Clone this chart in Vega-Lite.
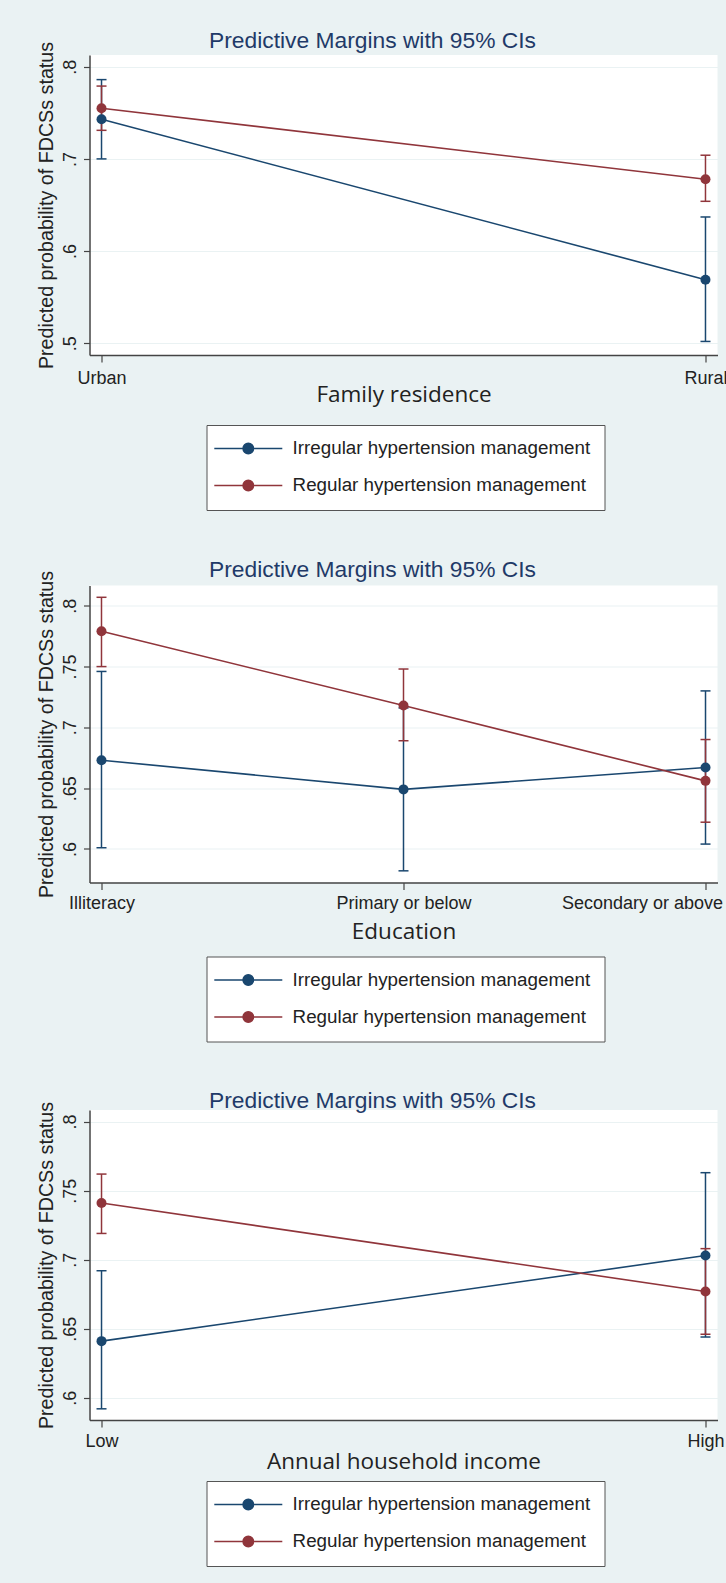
{
  "$schema": "https://vega.github.io/schema/vega-lite/v6.json",
  "background": "#eaf2f3",
  "padding": {"left": 36.5, "top": 30, "right": 9, "bottom": 20},
  "datasets": {
    "p1": [
      {"x": "Urban", "s": "Irregular hypertension management", "m": 0.743, "lo": 0.700, "hi": 0.786},
      {"x": "Rural", "s": "Irregular hypertension management", "m": 0.569, "lo": 0.502, "hi": 0.637},
      {"x": "Urban", "s": "Regular hypertension management", "m": 0.755, "lo": 0.731, "hi": 0.779},
      {"x": "Rural", "s": "Regular hypertension management", "m": 0.678, "lo": 0.654, "hi": 0.704}
    ],
    "p2": [
      {"x": "Illiteracy", "s": "Irregular hypertension management", "m": 0.673, "lo": 0.601, "hi": 0.746},
      {"x": "Primary or below", "s": "Irregular hypertension management", "m": 0.649, "lo": 0.582, "hi": 0.716},
      {"x": "Secondary or above", "s": "Irregular hypertension management", "m": 0.667, "lo": 0.604, "hi": 0.730},
      {"x": "Illiteracy", "s": "Regular hypertension management", "m": 0.779, "lo": 0.750, "hi": 0.807},
      {"x": "Primary or below", "s": "Regular hypertension management", "m": 0.718, "lo": 0.689, "hi": 0.748},
      {"x": "Secondary or above", "s": "Regular hypertension management", "m": 0.656, "lo": 0.622, "hi": 0.690}
    ],
    "p3": [
      {"x": "Low", "s": "Irregular hypertension management", "m": 0.641, "lo": 0.592, "hi": 0.692},
      {"x": "High", "s": "Irregular hypertension management", "m": 0.703, "lo": 0.644, "hi": 0.763},
      {"x": "Low", "s": "Regular hypertension management", "m": 0.741, "lo": 0.719, "hi": 0.762},
      {"x": "High", "s": "Regular hypertension management", "m": 0.677, "lo": 0.646, "hi": 0.708}
    ]
  },
  "spacing": 47.5,
  "resolve": {
    "scale": {"x": "independent", "y": "independent", "color": "independent"},
    "legend": {"color": "independent"}
  },
  "vconcat": [
    {
      "width": 628, "height": 300,
      "title": {"text": "Predictive Margins with 95% CIs"},
      "data": {"name": "p1"},
      "encoding": {
        "x": {"field": "x", "type": "nominal", "sort": ["Urban", "Rural"], "scale": {"type": "point", "padding": 0.0199}, "axis": {"title": "Family residence", "titlePadding": -3.25, "labelPadding": 7}},
        "color": {"field": "s", "type": "nominal", "scale": {"domain": ["Irregular hypertension management", "Regular hypertension management"], "range": ["#1a476f", "#90353b"]},
          "legend": {"title": null, "orient": "none", "legendX": 117, "legendY": 370, "direction": "vertical", "padding": 14, "strokeColor": "#555555", "fillColor": "#ffffff", "labelFont": "Liberation Sans", "labelFontSize": 18.8, "labelColor": "#222222", "labelLimit": 0, "symbolType": "M-6.8,0H6.8M-1.05,0A1.05,1.05,0,1,0,1.05,0A1.05,1.05,0,1,0,-1.05,0Z", "symbolSize": 100, "symbolStrokeWidth": 1.5, "symbolOffset": 18.4, "labelOffset": 34.9, "rowPadding": 17, "symbolOpacity": 1,
            "encode": {"symbols": {"update": {"fill": {"signal": "datum.value === 'Irregular hypertension management' ? '#1a476f' : '#90353b'"}, "stroke": {"signal": "datum.value === 'Irregular hypertension management' ? '#1a476f' : '#90353b'"}}}}}}
      },
      "layer": [
        {"mark": {"type": "rule", "strokeWidth": 1.5}, "encoding": {"y": {"field": "lo", "type": "quantitative", "scale": {"domain": [0.4873, 0.8127], "nice": false, "zero": false}, "axis": {"values": [0.5, 0.6, 0.7, 0.8], "title": "Predicted probability of FDCSs status"}}, "y2": {"field": "hi"}}},
        {"mark": {"type": "tick", "size": 10, "thickness": 1.5, "opacity": 1}, "encoding": {"y": {"field": "lo", "type": "quantitative", "scale": {"domain": [0.4873, 0.8127], "nice": false, "zero": false}, "axis": {"values": [0.5, 0.6, 0.7, 0.8], "title": "Predicted probability of FDCSs status"}}}},
        {"mark": {"type": "tick", "size": 10, "thickness": 1.5, "opacity": 1}, "encoding": {"y": {"field": "hi", "type": "quantitative", "scale": {"domain": [0.4873, 0.8127], "nice": false, "zero": false}, "axis": {"values": [0.5, 0.6, 0.7, 0.8], "title": "Predicted probability of FDCSs status"}}}},
        {"mark": {"type": "line", "strokeWidth": 1.6}, "encoding": {"y": {"field": "m", "type": "quantitative", "scale": {"domain": [0.4873, 0.8127], "nice": false, "zero": false}, "axis": {"values": [0.5, 0.6, 0.7, 0.8], "title": "Predicted probability of FDCSs status"}}}},
        {"mark": {"type": "point", "filled": true, "size": 100, "opacity": 1}, "encoding": {"y": {"field": "m", "type": "quantitative", "scale": {"domain": [0.4873, 0.8127], "nice": false, "zero": false}, "axis": {"values": [0.5, 0.6, 0.7, 0.8], "title": "Predicted probability of FDCSs status"}}}}
      ]
    },
    {
      "width": 628, "height": 297,
      "title": {"text": "Predictive Margins with 95% CIs"},
      "data": {"name": "p2"},
      "encoding": {
        "x": {"field": "x", "type": "nominal", "sort": ["Illiteracy", "Primary or below", "Secondary or above"], "scale": {"type": "point", "padding": 0.0397}, "axis": {"title": "Education", "titlePadding": 8.25,
          "labelAlign": {"condition": {"test": "datum.value === 'Secondary or above'", "value": "right"}, "value": "center"},
          "labelOffset": {"condition": {"test": "datum.value === 'Secondary or above'", "value": 17}, "value": 0}}},
        "color": {"field": "s", "type": "nominal", "scale": {"domain": ["Irregular hypertension management", "Regular hypertension management"], "range": ["#1a476f", "#90353b"]},
          "legend": {"title": null, "orient": "none", "legendX": 117, "legendY": 371, "direction": "vertical", "padding": 14, "strokeColor": "#555555", "fillColor": "#ffffff", "labelFont": "Liberation Sans", "labelFontSize": 18.8, "labelColor": "#222222", "labelLimit": 0, "symbolType": "M-6.8,0H6.8M-1.05,0A1.05,1.05,0,1,0,1.05,0A1.05,1.05,0,1,0,-1.05,0Z", "symbolSize": 100, "symbolStrokeWidth": 1.5, "symbolOffset": 18.4, "labelOffset": 34.9, "rowPadding": 17, "symbolOpacity": 1,
            "encode": {"symbols": {"update": {"fill": {"signal": "datum.value === 'Irregular hypertension management' ? '#1a476f' : '#90353b'"}, "stroke": {"signal": "datum.value === 'Irregular hypertension management' ? '#1a476f' : '#90353b'"}}}}}}
      },
      "layer": [
        {"mark": {"type": "rule", "strokeWidth": 1.5}, "encoding": {"y": {"field": "lo", "type": "quantitative", "scale": {"domain": [0.5724, 0.8167], "nice": false, "zero": false}, "axis": {"values": [0.6, 0.65, 0.7, 0.75, 0.8], "title": "Predicted probability of FDCSs status"}}, "y2": {"field": "hi"}}},
        {"mark": {"type": "tick", "size": 10, "thickness": 1.5, "opacity": 1}, "encoding": {"y": {"field": "lo", "type": "quantitative", "scale": {"domain": [0.5724, 0.8167], "nice": false, "zero": false}, "axis": {"values": [0.6, 0.65, 0.7, 0.75, 0.8], "title": "Predicted probability of FDCSs status"}}}},
        {"mark": {"type": "tick", "size": 10, "thickness": 1.5, "opacity": 1}, "encoding": {"y": {"field": "hi", "type": "quantitative", "scale": {"domain": [0.5724, 0.8167], "nice": false, "zero": false}, "axis": {"values": [0.6, 0.65, 0.7, 0.75, 0.8], "title": "Predicted probability of FDCSs status"}}}},
        {"mark": {"type": "line", "strokeWidth": 1.6}, "encoding": {"y": {"field": "m", "type": "quantitative", "scale": {"domain": [0.5724, 0.8167], "nice": false, "zero": false}, "axis": {"values": [0.6, 0.65, 0.7, 0.75, 0.8], "title": "Predicted probability of FDCSs status"}}}},
        {"mark": {"type": "point", "filled": true, "size": 100, "opacity": 1}, "encoding": {"y": {"field": "m", "type": "quantitative", "scale": {"domain": [0.5724, 0.8167], "nice": false, "zero": false}, "axis": {"values": [0.6, 0.65, 0.7, 0.75, 0.8], "title": "Predicted probability of FDCSs status"}}}}
      ]
    },
    {
      "width": 628, "height": 310,
      "title": {"text": "Predictive Margins with 95% CIs"},
      "data": {"name": "p3"},
      "encoding": {
        "x": {"field": "x", "type": "nominal", "sort": ["Low", "High"], "scale": {"type": "point", "padding": 0.0199}, "axis": {"title": "Annual household income", "titlePadding": 0.25}},
        "color": {"field": "s", "type": "nominal", "scale": {"domain": ["Irregular hypertension management", "Regular hypertension management"], "range": ["#1a476f", "#90353b"]},
          "legend": {"title": null, "orient": "none", "legendX": 117, "legendY": 371, "direction": "vertical", "padding": 14, "strokeColor": "#555555", "fillColor": "#ffffff", "labelFont": "Liberation Sans", "labelFontSize": 18.8, "labelColor": "#222222", "labelLimit": 0, "symbolType": "M-6.8,0H6.8M-1.05,0A1.05,1.05,0,1,0,1.05,0A1.05,1.05,0,1,0,-1.05,0Z", "symbolSize": 100, "symbolStrokeWidth": 1.5, "symbolOffset": 18.4, "labelOffset": 34.9, "rowPadding": 17, "symbolOpacity": 1,
            "encode": {"symbols": {"update": {"fill": {"signal": "datum.value === 'Irregular hypertension management' ? '#1a476f' : '#90353b'"}, "stroke": {"signal": "datum.value === 'Irregular hypertension management' ? '#1a476f' : '#90353b'"}}}}}}
      },
      "layer": [
        {"mark": {"type": "rule", "strokeWidth": 1.5}, "encoding": {"y": {"field": "lo", "type": "quantitative", "scale": {"domain": [0.5839, 0.8084], "nice": false, "zero": false}, "axis": {"values": [0.6, 0.65, 0.7, 0.75, 0.8], "title": "Predicted probability of FDCSs status"}}, "y2": {"field": "hi"}}},
        {"mark": {"type": "tick", "size": 10, "thickness": 1.5, "opacity": 1}, "encoding": {"y": {"field": "lo", "type": "quantitative", "scale": {"domain": [0.5839, 0.8084], "nice": false, "zero": false}, "axis": {"values": [0.6, 0.65, 0.7, 0.75, 0.8], "title": "Predicted probability of FDCSs status"}}}},
        {"mark": {"type": "tick", "size": 10, "thickness": 1.5, "opacity": 1}, "encoding": {"y": {"field": "hi", "type": "quantitative", "scale": {"domain": [0.5839, 0.8084], "nice": false, "zero": false}, "axis": {"values": [0.6, 0.65, 0.7, 0.75, 0.8], "title": "Predicted probability of FDCSs status"}}}},
        {"mark": {"type": "line", "strokeWidth": 1.6}, "encoding": {"y": {"field": "m", "type": "quantitative", "scale": {"domain": [0.5839, 0.8084], "nice": false, "zero": false}, "axis": {"values": [0.6, 0.65, 0.7, 0.75, 0.8], "title": "Predicted probability of FDCSs status"}}}},
        {"mark": {"type": "point", "filled": true, "size": 100, "opacity": 1}, "encoding": {"y": {"field": "m", "type": "quantitative", "scale": {"domain": [0.5839, 0.8084], "nice": false, "zero": false}, "axis": {"values": [0.6, 0.65, 0.7, 0.75, 0.8], "title": "Predicted probability of FDCSs status"}}}}
      ]
    }
  ],
  "config": {
    "font": "Liberation Sans",
    "view": {"fill": "#ffffff", "stroke": null},
    "title": {"font": "Liberation Sans", "fontSize": 22.8, "fontWeight": "normal", "color": "#1f3a68", "anchor": "middle", "frame": "group", "dx": -31, "offset": -11.5},
    "axis": {"domainColor": "#444444", "domainWidth": 1.5, "tickColor": "#444444", "tickWidth": 1.2, "tickSize": 7, "labelFont": "Liberation Sans", "labelFontSize": 18, "labelColor": "#222222", "grid": false},
    "axisX": {"labelAngle": 0, "labelPadding": 5, "titleFont": "Open Sans", "titleFontSize": 22.5, "titleFontWeight": "normal", "titleColor": "#222222"},
    "axisY": {"grid": true, "gridColor": "#eaf2f3", "gridWidth": 1.2, "labelAngle": -90, "labelAlign": "center", "labelBaseline": "bottom", "labelPadding": 4, "tickSize": 6, "labelExpr": "substring(format(datum.value, '.2~f'), 1)", "titleFont": "Liberation Sans", "titleFontSize": 19.7, "titleFontWeight": "normal", "titleColor": "#222222", "titlePadding": 5}
  }
}
